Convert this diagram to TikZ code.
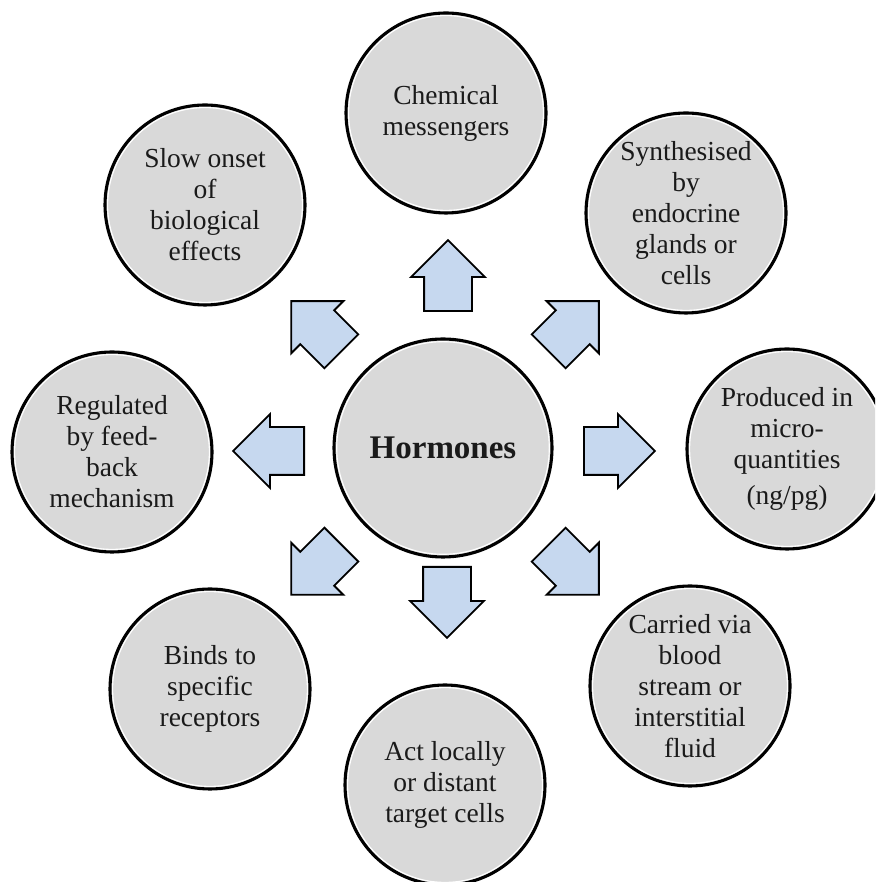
\documentclass[tikz,border=0pt]{standalone}
\usepackage{fontspec}
\setmainfont{Liberation Serif}
\usetikzlibrary{shapes.arrows}
\definecolor{discfill}{HTML}{D9D9D9}
\definecolor{arrowfill}{HTML}{C6D8EF}
\definecolor{inktext}{HTML}{1A1A1A}
\begin{document}
\begin{tikzpicture}[x=1pt,y=1pt,
  sat/.style={circle, draw=black, line width=3.1pt, fill=discfill,
    minimum size=200pt, inner sep=0pt},
  hubdisc/.style={sat, minimum size=218pt},
  txt/.style={align=center, text=inktext, inner sep=0pt,
    font=\fontsize{27.5}{31}\selectfont},
  push/.style={single arrow, draw=black, line width=1.8pt, fill=arrowfill,
    minimum height=71pt, minimum width=0pt, inner xsep=0pt, inner ysep=23pt,
    single arrow head extend=13pt, anchor=tail},
  rim/.style={white, line width=1.1pt}
]
\useasboundingbox (0,0) rectangle (875,882);
\clip (0,0) rectangle (875,882);

% central disc
\node[hubdisc, label={[txt, font=\fontsize{33}{36}\selectfont\bfseries]center:Hormones}] (hub) at (443,434) {};
\draw[rim] (hub.center) circle (106.3pt);

% surrounding discs
\node[sat, label={[txt]center:{Chemical\\messengers}}] (n) at (446,769) {};
\node[sat, label={[txt]center:{Synthesised\\by\\endocrine\\glands or\\cells}}] (ne) at (686,669) {};
\node[sat, label={[txt]center:{Produced in\\micro-\\quantities\\[5pt](ng/pg)}}] (e) at (787,433) {};
\node[sat, label={[txt]center:{Carried via\\blood\\stream or\\interstitial\\fluid}}] (se) at (690,196) {};
\node[sat, label={[txt]center:{Act locally\\or distant\\target cells}}] (s) at (445,97) {};
\node[sat, label={[txt]center:{Binds to\\specific\\receptors}}] (sw) at (210,193) {};
\node[sat, label={[txt]center:{Regulated\\by feed-\\back\\mechanism}}] (w) at (112,430) {};
\node[sat, label={[txt]center:{Slow onset\\of\\biological\\effects}}] (nw) at (205,677) {};
\foreach \d in {n,ne,e,se,s,sw,w,nw}
  \draw[rim] (\d.center) circle (97.4pt);

% block arrows pointing outwards, placed by their tails
\node[push, rotate=90]   (an)  at (448,570) {};
\node[push, rotate=45]   (ane) at (548,530) {};
\node[push, rotate=0]    (ae)  at (583,431) {};
\node[push, rotate=-45]  (ase) at (548,338) {};
\node[push, rotate=-90]  (as)  at (447,316) {};
\node[push, rotate=-135] (asw) at (342,338) {};
\node[push, rotate=180]  (aw)  at (305,431) {};
\node[push, rotate=135]  (anw) at (342,530) {};
\end{tikzpicture}
\end{document}
